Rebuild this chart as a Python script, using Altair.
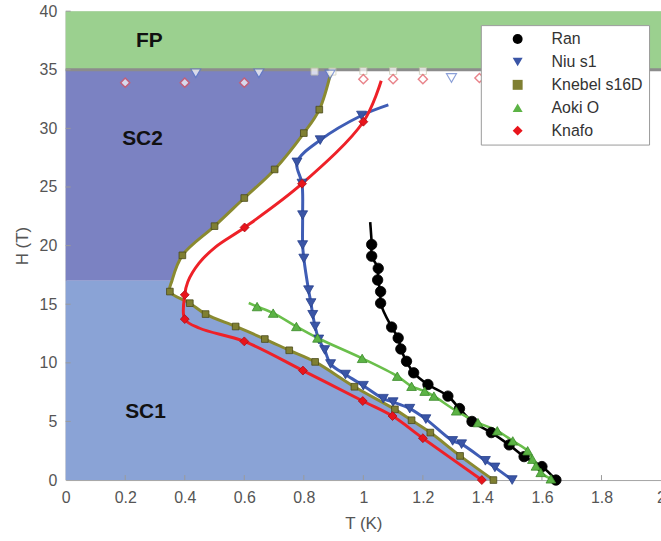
import altair as alt
import pandas as pd

SERIES = ["Ran", "Niu s1", "Knebel s16D", "Aoki O", "Knafo"]

# ---- filled markers (T in K, H in T) ----
RAN_T = [1.028, 1.028, 1.05, 1.048, 1.058, 1.058, 1.095, 1.117, 1.126, 1.145, 1.169,
         1.217, 1.284, 1.323, 1.365, 1.43, 1.49, 1.54, 1.60, 1.647]
RAN_H = [20.1, 19.1, 18.06, 17.07, 16.08, 15.09, 13.05, 12.12, 11.18, 10.13, 9.15,
         8.15, 7.16, 6.1, 5.0, 4.05, 3.0, 2.0, 1.15, 0.0]

NIU_T = [0.994, 0.855, 0.777, 0.794, 0.796, 0.796, 0.80, 0.816, 0.824, 0.83, 0.838,
         0.85, 0.87, 0.89, 0.94, 1.0, 1.067, 1.1, 1.156, 1.21, 1.30, 1.33, 1.41, 1.442, 1.5]
NIU_H = [31.1, 29.0, 27.1, 25.3, 22.6, 20.05, 18.9, 16.2, 15.1, 14.1, 13.1,
         12.0, 11.1, 9.9, 9.0, 8.05, 6.94, 6.65, 6.09, 5.2, 3.34, 3.06, 1.64, 1.08, 0.0]

KNEBEL_T = [0.852, 0.80, 0.702, 0.60, 0.50, 0.392, 0.35, 0.417, 0.47, 0.571, 0.669,
            0.751, 0.838, 0.97, 1.106, 1.162, 1.225, 1.325, 1.437]
KNEBEL_H = [31.6, 29.6, 26.5, 24.06, 21.66, 19.17, 16.08, 15.09, 14.16, 13.1, 12.03,
            11.07, 10.08, 7.96, 6.03, 5.1, 4.05, 2.06, 0.0]

AOKI_T = [0.643, 0.697, 0.775, 0.846, 0.996, 1.114, 1.162, 1.206, 1.237, 1.312, 1.385,
          1.45, 1.502, 1.552, 1.568, 1.58, 1.596, 1.63]
AOKI_H = [14.8, 14.24, 13.1, 12.12, 10.38, 8.86, 8.0, 7.58, 7.16, 5.9, 4.9,
          4.2, 3.34, 2.5, 1.78, 1.2, 0.65, 0.1]

KNAFO_T = [1.0, 0.794, 0.601, 0.40, 0.40, 0.6, 0.797, 0.998, 1.098, 1.2, 1.398]
KNAFO_H = [30.57, 25.28, 21.55, 15.8, 13.73, 11.83, 9.34, 6.74, 5.46, 3.57, 0.0]

# ---- guide curves through the data (vertices in drawing order) ----
RAN_CURVE_T = [1.023] + RAN_T
RAN_CURVE_H = [22.0] + RAN_H
NIU_CURVE_T = [1.084] + NIU_T
NIU_CURVE_H = [32.0] + NIU_H
KNEBEL_CURVE_T = [0.893, 0.852, 0.80, 0.702, 0.60, 0.50, 0.392, 0.357, 0.35, 0.417, 0.47,
                  0.571, 0.669, 0.751, 0.838, 0.97, 1.106, 1.162, 1.225, 1.325, 1.437]
KNEBEL_CURVE_H = [35.0, 31.6, 29.6, 26.5, 24.06, 21.66, 19.17, 17.0, 16.08, 15.09, 14.16,
                  13.1, 12.03, 11.07, 10.08, 7.96, 6.03, 5.1, 4.05, 2.06, 0.0]
AOKI_CURVE_T = [0.615] + AOKI_T
AOKI_CURVE_H = [15.1] + AOKI_H
KNAFO_CURVE_T = [1.06, 1.0, 0.794, 0.601, 0.504, 0.448, 0.41, 0.40, 0.40, 0.45, 0.6,
                 0.797, 0.998, 1.098, 1.2, 1.398]
KNAFO_CURVE_H = [34.06, 30.57, 25.28, 21.55, 19.9, 18.5, 16.9, 15.8, 13.73, 12.95, 11.83,
                 9.34, 6.74, 5.46, 3.57, 0.0]

# ---- open markers near the upper critical field ----
OPEN_SQ_T = [0.836, 0.896, 1.0, 1.1, 1.2]
OPEN_SQ_H = [34.85, 34.85, 34.9, 34.9, 34.9]
OPEN_TRI_T = [0.437, 0.649, 0.888, 1.296]
OPEN_TRI_H = [34.7, 34.7, 34.6, 34.3]
OPEN_DIA_T = [0.2, 0.4, 0.6, 1.0, 1.1, 1.2, 1.39]
OPEN_DIA_H = [33.9, 33.9, 33.9, 34.2, 34.2, 34.2, 34.3]

# ---- phase regions ----
FP_H = [35.0, 40.0]
SC_SPLIT_H = 17.0
T_RANGE = [0.0, 2.0]

REGION_LABELS = ["FP", "SC2", "SC1"]
REGION_LABEL_T = [0.281, 0.258, 0.268]
REGION_LABEL_H = [37.45, 29.1, 5.8]

X_TICKS = [0.2, 0.4, 0.6, 0.8, 1.0, 1.2, 1.4, 1.6, 1.8]
Y_TICKS = [5, 10, 15, 20, 25, 30, 35, 40]

# styles
MARKER_FILL = ["#000000", "#3a55a6", "#7f7f32", "#5cb345", "#e8141b"]
MARKER_EDGE = ["#000000", "#27418c", "#4a4a1c", "#3a8a2a", "#a8101a"]
MARKER_SHAPE = ["circle", "triangle-down", "square", "triangle-up", "diamond"]
MARKER_SIZE = [110, 100, 45, 95, 80]
LINE_COLOR = ["#000000", "#3f5db5", "#8a8a30", "#6abf4b", "#ee2128"]
LINE_WIDTH = [2.6, 3, 3, 2.6, 3]
FONT = "Liberation Sans"


def table(name, ts, hs):
    return pd.DataFrame({"series": name, "T": ts, "H": hs, "i": range(len(ts))})


marker_tables = [
    table("Ran", RAN_T, RAN_H),
    table("Niu s1", NIU_T, NIU_H),
    table("Knebel s16D", KNEBEL_T, KNEBEL_H),
    table("Aoki O", AOKI_T, AOKI_H),
    table("Knafo", KNAFO_T, KNAFO_H),
]
curve_tables = [
    table("Ran", RAN_CURVE_T, RAN_CURVE_H),
    table("Niu s1", NIU_CURVE_T, NIU_CURVE_H),
    table("Knebel s16D", KNEBEL_CURVE_T, KNEBEL_CURVE_H),
    table("Aoki O", AOKI_CURVE_T, AOKI_CURVE_H),
    table("Knafo", KNAFO_CURVE_T, KNAFO_CURVE_H),
]

kneb = pd.DataFrame({"T": KNEBEL_CURVE_T, "H": KNEBEL_CURVE_H})
sc1_df = kneb[kneb.H <= SC_SPLIT_H].assign(T0=T_RANGE[0])
sc2_df = kneb[kneb.H >= SC_SPLIT_H].assign(T0=T_RANGE[0])
fp_df = pd.DataFrame({"T": [T_RANGE[0]], "T2": [T_RANGE[1]], "H": [FP_H[0]], "H2": [FP_H[1]]})
edge_df = pd.DataFrame({"T": [T_RANGE[0]], "T2": [T_RANGE[1]], "H": [FP_H[0]]})

label_df = pd.DataFrame({"label": REGION_LABELS, "T": REGION_LABEL_T, "H": REGION_LABEL_H})
xt_df = pd.DataFrame({"T": X_TICKS})
yt_df = pd.DataFrame({"H": Y_TICKS})

x_scale = alt.Scale(domain=T_RANGE, nice=False, zero=False)
y_scale = alt.Scale(domain=[0, 40], nice=False, zero=False)
x_axis = alt.Axis(values=[0, 0.2, 0.4, 0.6, 0.8, 1, 1.2, 1.4, 1.6, 1.8, 2], format="~g",
                  ticks=False, tickSize=0, grid=False, labelPadding=10, titlePadding=10,
                  domainColor="#a6a6a6", labelFontSize=16, labelColor="#555555",
                  titleFontSize=17, titleFontWeight="normal", titleColor="#555555",
                  labelFlush=False)
y_axis = alt.Axis(values=[0, 5, 10, 15, 20, 25, 30, 35, 40], ticks=False, tickSize=0,
                  grid=False, labelPadding=9, titlePadding=8, domainColor="#a6a6a6",
                  labelFontSize=16, labelColor="#555555", titleFontSize=17,
                  titleFontWeight="normal", titleColor="#555555", labelFlush=False)


def X(field):
    return alt.X(f"{field}:Q", scale=x_scale, axis=x_axis, title="T (K)")


def Y(field):
    return alt.Y(f"{field}:Q", scale=y_scale, axis=y_axis, title="H (T)")


fp = alt.Chart(fp_df).mark_rect(color="#9bd08f").encode(
    x=X("T"), x2="T2", y=Y("H"), y2="H2")

sc2 = alt.Chart(sc2_df).mark_area(
    orient="horizontal", interpolate="catmull-rom", color="#7b82c2", opacity=1
).encode(x=X("T"), x2="T0", y=Y("H"))

sc1 = alt.Chart(sc1_df).mark_area(
    orient="horizontal", interpolate="catmull-rom", color="#8aa3d6", opacity=1
).encode(x=X("T"), x2="T0", y=Y("H"))

edge = alt.Chart(edge_df).mark_rule(color="#8c8c8c", strokeWidth=3).encode(
    x=X("T"), x2="T2", y=Y("H"))

xticks = alt.Chart(xt_df).mark_rule(color="#9a9a9a", strokeWidth=1).encode(
    x=X("T"), y=alt.value(471), y2=alt.value(466))
yticks = alt.Chart(yt_df).mark_rule(color="#9a9a9a", strokeWidth=1).encode(
    y=Y("H"), x=alt.value(0), x2=alt.value(5))

line_layers = [
    alt.Chart(df).mark_line(
        interpolate="catmull-rom", strokeWidth=w, color=c
    ).encode(x=X("T"), y=Y("H"), order="i:Q")
    for df, c, w in zip(curve_tables, LINE_COLOR, LINE_WIDTH)
]

open_sq = alt.Chart(table("Knebel s16D", OPEN_SQ_T, OPEN_SQ_H)).mark_point(
    shape="square", filled=True, size=50, fill="white", stroke="#c9c9b0", strokeWidth=1
).encode(x=X("T"), y=Y("H"))
open_tri = alt.Chart(table("Niu s1", OPEN_TRI_T, OPEN_TRI_H)).mark_point(
    shape="triangle-down", filled=True, size=100, fill="white", stroke="#5b78c8", strokeWidth=1.2
).encode(x=X("T"), y=Y("H"))
open_dia = alt.Chart(table("Knafo", OPEN_DIA_T, OPEN_DIA_H)).mark_point(
    shape="diamond", filled=True, size=85, fill="white", stroke="#e0505a", strokeWidth=1.4
).encode(x=X("T"), y=Y("H"))

legend = alt.Legend(
    title=None, orient="none", legendX=417, legendY=14, padding=6,
    symbolOffset=23, labelOffset=26, rowPadding=7, symbolSize=100,
    labelFont=FONT, labelFontSize=16, labelColor="#333333",
    fillColor="white", strokeColor="#9a9a9a", symbolStrokeWidth=0,
)
color_scale = alt.Scale(domain=SERIES, range=MARKER_FILL)
shape_scale = alt.Scale(domain=SERIES, range=MARKER_SHAPE)

marker_layers = [
    alt.Chart(df).mark_point(
        filled=True, opacity=1, size=s, stroke=e, strokeWidth=0.8
    ).encode(
        x=X("T"), y=Y("H"),
        color=alt.Color("series:N", scale=color_scale, legend=legend),
        shape=alt.Shape("series:N", scale=shape_scale, legend=legend),
    )
    for df, s, e in zip(marker_tables, MARKER_SIZE, MARKER_EDGE)
]

labels = alt.Chart(label_df).mark_text(
    font=FONT, fontSize=21, fontWeight="bold", color="#111111"
).encode(x=X("T"), y=Y("H"), text="label:N")

chart = alt.layer(
    fp, sc2, sc1, edge, xticks, yticks, labels, *line_layers,
    open_sq, open_tri, open_dia, *marker_layers
).properties(
    width=598, height=471,
    padding={"left": 66, "top": 10, "right": 0, "bottom": 60},
    autosize=alt.AutoSizeParams(type="none"),
).configure_view(stroke=None).configure(font=FONT)

chart.save("out.html", embed_options={"renderer": "svg", "actions": False})
